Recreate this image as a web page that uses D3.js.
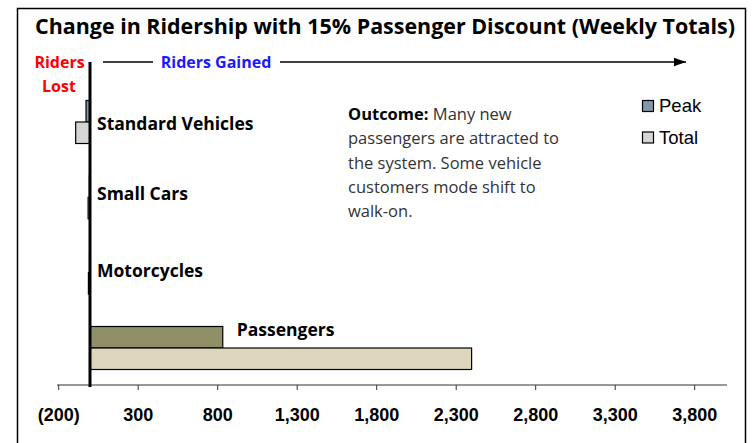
<!DOCTYPE html>
<html lang="en">
<head>
<meta charset="utf-8">
<script src="https://d3js.org/d3.v7.min.js"></script>
<style>
  body { margin: 0; background: #fff; }
  text { font-family: "Open Sans", "Noto Sans", sans-serif; }
</style>
</head>
<body>
<svg width="754" height="443"></svg>
<script>
// chart data
var categories = ["Standard Vehicles", "Small Cars", "Motorcycles", "Passengers"];
var peakValues = [-25, -4, -3, 835];
var totalValues = [-90, -12, -10, 2400];
var tickValues = [-200, 300, 800, 1300, 1800, 2300, 2800, 3300, 3800];
var peakColors = ["#8497a8", "#8497a8", "#8497a8", "#8f8f68"];
var totalColors = ["#d4d6d3", "#d4d6d3", "#d4d6d3", "#ddd6bd"];
var noteLines = ["passengers are attracted to", "the system. Some vehicle", "customers mode shift to", "walk-on."];

var svg = d3.select("svg");

// outer frame
svg.append("rect")
    .attr("x", 17.5).attr("y", 8.5)
    .attr("width", 728).attr("height", 450)
    .attr("fill", "none").attr("stroke", "#000").attr("stroke-width", 1.5);

// title
svg.append("text")
    .attr("x", 35).attr("y", 34)
    .attr("textLength", 700).attr("lengthAdjust", "spacingAndGlyphs")
    .style("font-weight", "bold").style("font-size", "22px")
    .text("Change in Ridership with 15% Passenger Discount (Weekly Totals)");

// scales
var x = d3.scaleLinear().domain([-200, 4000]).range([58.2, 726]);
var y = d3.scalePoint().domain(categories).range([122, 348]);
var barH = 21.5;
var axisY = 385;

// axis
var fmt = function (d) { return d < 0 ? "(" + d3.format(",")(-d) + ")" : d3.format(",")(d); };
var ax = svg.append("g")
    .attr("transform", "translate(0," + axisY + ")")
    .call(d3.axisBottom(x).tickValues(tickValues).tickFormat(fmt).tickSize(5).tickSizeOuter(0).tickPadding(18));
ax.select(".domain").attr("stroke", "#333").attr("d", "M57,0H727");
ax.selectAll(".tick line").attr("stroke", "#333");
ax.selectAll(".tick text")
    .style("font-family", "Arial, 'Liberation Sans', sans-serif")
    .style("font-weight", "bold").style("font-size", "18px").attr("fill", "#000");

// bars
var rows = categories.map(function (c, i) {
    return {cat: c, peak: peakValues[i], total: totalValues[i], i: i};
});
var g = svg.append("g");
g.selectAll(".peak").data(rows).enter().append("rect")
    .attr("class", "peak")
    .attr("x", function (d) { return x(Math.min(0, d.peak)); })
    .attr("y", function (d) { return y(d.cat) - barH; })
    .attr("width", function (d) { return Math.abs(x(d.peak) - x(0)); })
    .attr("height", barH)
    .attr("fill", function (d) { return peakColors[d.i]; })
    .attr("stroke", "#000").attr("stroke-width", 1.2);
g.selectAll(".total").data(rows).enter().append("rect")
    .attr("class", "total")
    .attr("x", function (d) { return x(Math.min(0, d.total)); })
    .attr("y", function (d) { return y(d.cat); })
    .attr("width", function (d) { return Math.abs(x(d.total) - x(0)); })
    .attr("height", barH)
    .attr("fill", function (d) { return totalColors[d.i]; })
    .attr("stroke", "#000").attr("stroke-width", 1.2);

// zero line
svg.append("line")
    .attr("x1", x(0)).attr("x2", x(0))
    .attr("y1", 62).attr("y2", 387)
    .attr("stroke", "#000").attr("stroke-width", 3);

// category labels
g.selectAll(".clabel").data(rows).enter().append("text")
    .attr("x", function (d) { return d.peak > 100 ? x(d.peak) + 14 : x(0) + 7; })
    .attr("y", function (d) {
        if (d.peak > 100) return y(d.cat) - barH / 2 - 7;
        return y(d.cat) + [2, -3, -2, 0][d.i];
    })
    .attr("dy", "0.35em")
    .style("font-weight", "bold").style("font-size", "17.5px").attr("fill", "#000")
    .text(function (d) { return d.cat; });

// riders lost / gained header
svg.append("text").attr("x", 59.5).attr("y", 62).attr("dy", "0.35em")
    .attr("text-anchor", "middle").attr("fill", "#ff0000")
    .style("font-weight", "bold").style("font-size", "16px").text("Riders");
svg.append("text").attr("x", 59).attr("y", 86).attr("dy", "0.35em")
    .attr("text-anchor", "middle").attr("fill", "#ff0000")
    .style("font-weight", "bold").style("font-size", "16px").text("Lost");
svg.append("text").attr("x", 216).attr("y", 62).attr("dy", "0.35em")
    .attr("text-anchor", "middle").attr("fill", "#1a1aff")
    .style("font-weight", "bold").style("font-size", "16px").text("Riders Gained");

svg.append("defs").append("marker")
    .attr("id", "arr").attr("viewBox", "0 0 10 10")
    .attr("refX", 10).attr("refY", 5)
    .attr("markerWidth", 8).attr("markerHeight", 8)
    .attr("orient", "auto")
    .append("path").attr("d", "M0,1.5L10,5L0,8.5z").attr("fill", "#000");
svg.append("line").attr("x1", 103).attr("x2", 153).attr("y1", 62).attr("y2", 62)
    .attr("stroke", "#000").attr("stroke-width", 1.5);
svg.append("line").attr("x1", 280).attr("x2", 686).attr("y1", 62).attr("y2", 62)
    .attr("stroke", "#000").attr("stroke-width", 1.5).attr("marker-end", "url(#arr)");

// outcome note
var note = svg.append("g").attr("fill", "#333").style("font-size", "16.5px");
var first = note.append("text").attr("x", 348).attr("y", 120);
first.append("tspan").style("font-weight", "bold").attr("fill", "#000").text("Outcome:");
first.append("tspan").text(" Many new");
note.selectAll(".nl").data(noteLines).enter().append("text")
    .attr("x", 348)
    .attr("y", function (d, i) { return 144.3 + i * 24.3; })
    .text(function (d) { return d; });

// legend
var legend = svg.append("g");
[["Peak", peakColors[0]], ["Total", totalColors[0]]].forEach(function (l, i) {
    legend.append("rect")
        .attr("x", 642.5).attr("y", 100.5 + i * 31.5)
        .attr("width", 11).attr("height", 11)
        .attr("fill", l[1]).attr("stroke", "#000").attr("stroke-width", 1.2);
    legend.append("text")
        .attr("x", 659).attr("y", 106 + i * 31.5).attr("dy", "0.35em")
        .style("font-family", "Arial, 'Liberation Sans', sans-serif")
        .style("font-size", "18.5px").attr("fill", "#000")
        .text(l[0]);
});
</script>
</body>
</html>
